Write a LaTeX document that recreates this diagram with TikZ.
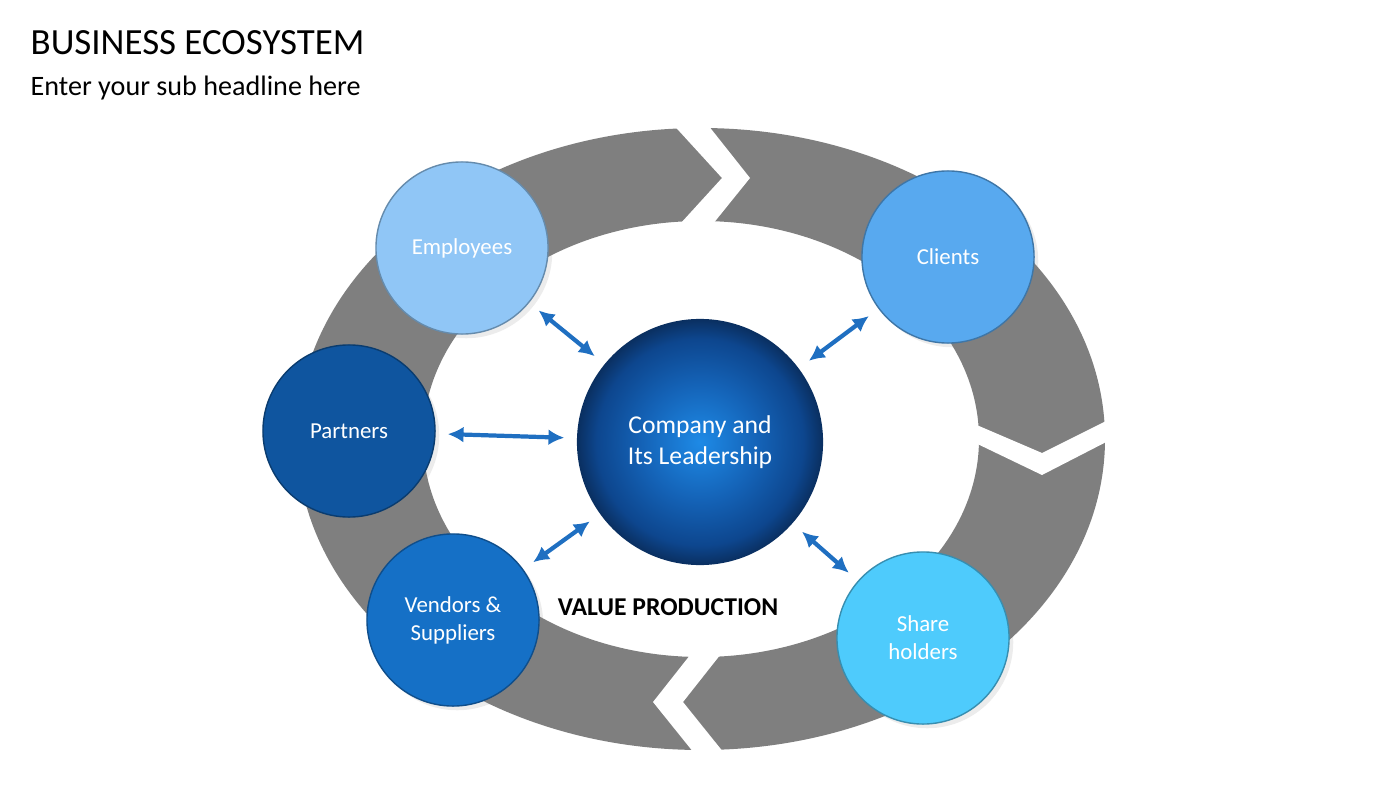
\documentclass[tikz,border=0pt]{standalone}
\usepackage{fontspec}
\setmainfont{Carlito}
\usetikzlibrary{arrows.meta,shadows}

\definecolor{ringgray}{HTML}{7F7F7F}
\definecolor{empblue}{HTML}{90C6F6}
\definecolor{cliblue}{HTML}{58A9EF}
\definecolor{parblue}{HTML}{0F559F}
\definecolor{venblue}{HTML}{1570C6}
\definecolor{shablue}{HTML}{4ECBFC}
\definecolor{linkblue}{HTML}{1F6FC1}
\definecolor{coreinner}{HTML}{1E8AE6}
\definecolor{coremid}{HTML}{1462B6}
\definecolor{coredeep}{HTML}{0D468E}
\definecolor{coreouter}{HTML}{0A2F60}
\pgfdeclareradialshading{coreshade}{\pgfpoint{0bp}{0bp}}{color(0bp)=(coreinner);
  color(12bp)=(coremid); color(21bp)=(coredeep); color(25bp)=(coreouter); color(50bp)=(coreouter)}

\begin{document}
\begin{tikzpicture}[x=0.01cm,y=-0.01cm]
		\tikzset{bubble/.style = {circle, minimum size=1.72cm, inner sep=0pt, align=center,
				text=white, font=\fontsize{6.5}{8}\selectfont,
				fill=#1, draw=#1!70!black, line width=0.4pt,
				drop shadow={shadow xshift=1.2pt, shadow yshift=-1.2pt, opacity=0.15}}}
		\tikzset{link/.style = {{Latex[length=4.5pt,width=4.5pt]}-{Latex[length=4.5pt,width=4.5pt]},
				linkblue, line width=1.2pt, shorten <=0.12cm, shorten >=0.12cm}}
		
		\useasboundingbox (0,0) rectangle (1400,788);
		
		% ring with three notches
		\fill[ringgray, even odd rule] (701,439) ellipse [x radius=404, y radius=311]
		                               (701,439) ellipse [x radius=278, y radius=218];
		\fill[white] (669,120) -- (722,178) -- (670,235) -- (704,235) -- (750,178) -- (704,120) -- cycle;
		\fill[white] (965,420) -- (1042,453) -- (1112,418) -- (1112,439) -- (1042,475) -- (965,438) -- cycle;
		\fill[white] (698,645) -- (653,702) -- (698,758) -- (728,758) -- (683,702) -- (728,645) -- cycle;
		
		\node[anchor=base west, inner sep=0pt, font=\fontsize{10.5}{12}\selectfont] (title) at (30,55) {BUSINESS ECOSYSTEM};
		\node[anchor=base west, inner sep=0pt, font=\fontsize{8}{10}\selectfont]    (sub)   at (30,96) {Enter your sub headline here};
		
		\node[circle, minimum size=2.46cm, inner sep=0pt, align=center, text=white,
		      font=\fontsize{7.3}{8.8}\selectfont, shading=coreshade]
		      (core) at (700,442) {Company and\\Its Leadership};
		
		\node[bubble=empblue] (emp) at (462,248) {Employees};
		\node[bubble=cliblue] (cli) at (948,257) {Clients};
		\node[bubble=parblue] (par) at (349,431) {Partners};
		\node[bubble=venblue] (ven) at (453,620) {Vendors \&\\Suppliers};
		\node[bubble=shablue] (sha) at (923,638) {Share\\holders};
		
		\node[font=\fontsize{7.3}{9}\selectfont\bfseries] (val) at (668,607) {VALUE PRODUCTION};
		
		\draw[link] (emp) to (core);
		\draw[link] (cli) to (core);
		\draw[link] (par) to (core);
		\draw[link] (ven) to (core);
		\draw[link] (sha) to (core);
\end{tikzpicture}
\end{document}
